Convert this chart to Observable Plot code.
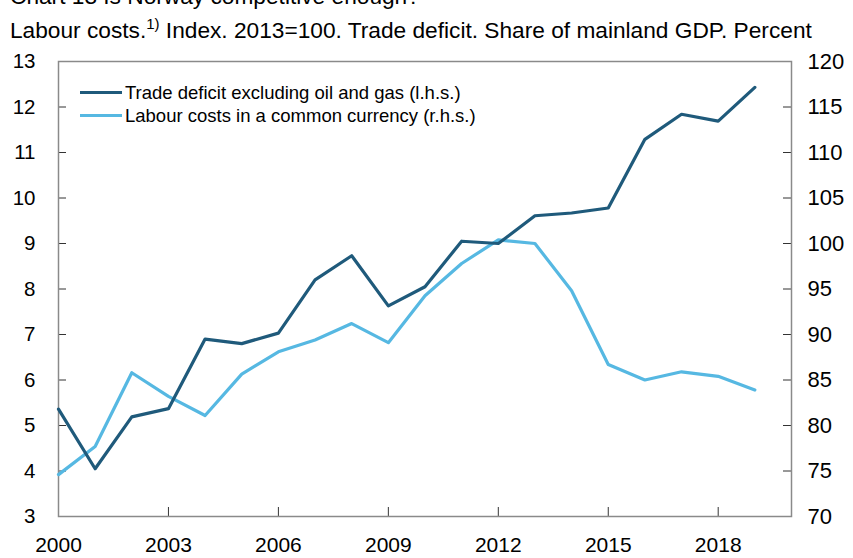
<!DOCTYPE html>
<html>
<head>
<meta charset="utf-8">
<script src="https://cdn.jsdelivr.net/npm/d3@7"></script>
<script src="https://cdn.jsdelivr.net/npm/@observablehq/plot@0.6"></script>
<style>
  html, body { margin: 0; padding: 0; background: #fff; }
  body { width: 853px; height: 558px; position: relative; overflow: hidden; font-family: "Liberation Sans", Arial, sans-serif; color: #000; }
  #title { position: absolute; left: 10px; top: -15px; font-size: 22.7px; line-height: 22.5px; white-space: nowrap; }
  #subtitle { position: absolute; left: 10px; top: 19px; font-size: 22.7px; line-height: 22.5px; white-space: nowrap; }
  #subtitle sup { font-size: 15px; vertical-align: 9px; line-height: 0; }
  #chart { position: absolute; left: 0; top: 0; }
  #legend { position: absolute; left: 80px; top: 81px; font-size: 18.5px; line-height: 23px; }
  #legend .row { display: flex; align-items: center; white-space: nowrap; }
  #legend .sw { width: 42px; height: 3px; margin-right: 3px; }
</style>
</head>
<body>
<div id="chart"></div>
<div id="title">Chart 13 Is Norway competitive enough?</div>
<div id="subtitle">Labour costs.<sup>1)</sup> Index. 2013=100. Trade deficit. Share of mainland GDP. Percent</div>
<div id="legend"></div>
<script>
const years = [2000,2001,2002,2003,2004,2005,2006,2007,2008,2009,2010,2011,2012,2013,2014,2015,2016,2017,2018,2019];
const tradeDeficit = [5.36,4.05,5.19,5.37,6.90,6.80,7.03,8.20,8.73,7.63,8.05,9.05,9.00,9.61,9.67,9.78,11.29,11.84,11.69,12.43];
const labourCosts = [74.6,77.7,85.8,83.2,81.1,85.65,88.1,89.4,91.2,89.1,94.25,97.8,100.4,100.0,94.8,86.7,85.0,85.9,85.4,83.9];
const seriesNames = ["Trade deficit excluding oil and gas (l.h.s.)", "Labour costs in a common currency (r.h.s.)"];
const seriesColors = ["#1f5a7b", "#56b8e2"];
const xTicks = [2000,2003,2006,2009,2012,2015,2018];
const leftTicks = [3,4,5,6,7,8,9,10,11,12,13];
const rightTicks = [70,75,80,85,90,95,100,105,110,115,120];

// map right-hand values onto the left-hand scale
const toLeft = v => 3 + (v - 70) / 5;
const toRight = v => 70 + (v - 3) * 5;

const dark = years.map((y, i) => ({year: y, value: tradeDeficit[i]}));
const light = years.map((y, i) => ({year: y, value: toLeft(labourCosts[i])}));

const W = 853, H = 558, mT = 61, mB = 42, mL = 58, mR = 62;
const pW = W - mL - mR, pH = H - mT - mB;
const axisColor = "#8a8a8a";
const tickColor = "#333";

const chart = Plot.plot({
  width: W, height: H,
  marginTop: mT, marginBottom: mB, marginLeft: mL, marginRight: mR,
  style: {fontFamily: "'Liberation Sans', Arial, sans-serif", fontSize: "20.5px", color: "#000", background: "transparent"},
  x: {domain: [2000, 2020], label: null},
  y: {domain: [3, 13], label: null},
  marks: [
    Plot.tickY(leftTicks, {y: d => d, stroke: tickColor, strokeWidth: 1, insetRight: pW - 8}),
    Plot.tickY(leftTicks, {y: d => d, stroke: tickColor, strokeWidth: 1, insetLeft: pW - 8}),
    Plot.tickX(xTicks, {x: d => d, stroke: tickColor, strokeWidth: 1, insetTop: pH - 9}),
    Plot.frame({stroke: axisColor, strokeWidth: 1.5}),
    Plot.axisY({anchor: "left", ticks: leftTicks, tickSize: 0, tickPadding: 23, tickFormat: d => String(d), fill: "#000", label: null}),
    Plot.axisY({anchor: "right", ticks: leftTicks, tickSize: 0, tickPadding: 16, fontSize: 22, tickFormat: d => String(toRight(d)), fill: "#000", label: null}),
    Plot.axisX({ticks: xTicks, tickSize: 0, tickPadding: 21, fontSize: 21, tickFormat: d => String(d), fill: "#000", label: null}),
    Plot.line(light, {x: "year", y: "value", stroke: seriesColors[1], strokeWidth: 3.2}),
    Plot.line(dark, {x: "year", y: "value", stroke: seriesColors[0], strokeWidth: 3.2})
  ]
});
document.getElementById("chart").appendChild(chart);

const legend = document.getElementById("legend");
seriesNames.forEach((name, i) => {
  const row = document.createElement("div");
  row.className = "row";
  const sw = document.createElement("span");
  sw.className = "sw";
  sw.style.background = seriesColors[i];
  const t = document.createElement("span");
  t.textContent = name;
  row.appendChild(sw); row.appendChild(t);
  legend.appendChild(row);
});
</script>
</body>
</html>
